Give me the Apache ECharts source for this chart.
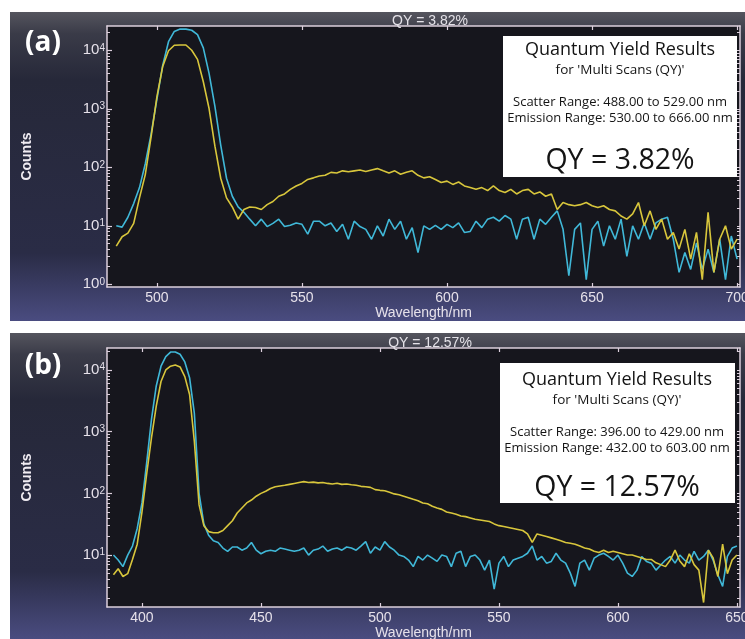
<!DOCTYPE html>
<html>
<head>
<meta charset="utf-8">
<script src="https://cdn.jsdelivr.net/npm/echarts@6/dist/echarts.min.js"></script>
<style>
  html, body { margin: 0; padding: 0; background: #ffffff; }
  #chart { width: 745px; height: 639px; }
</style>
</head>
<body>
<div id="chart"></div>
<script>
// Sampling grid of the two scans (nm)
const wlStartA = 486;
const wlStartB = 388;
const wlStep = 2;

// Scan (a): reference (cyan) and sample (yellow) counts
const cyanA = [10,9.5,14,24,45,115,370,1450,5500,14000,
  21000,23000,23000,22000,18500,11000,4000,1100,240,65,
  32,21,17,13,10,13,9.7,11,13,9.7,
  10.2,11.2,10.6,7.2,12,12,10,11.2,8,10.6,
  5.9,12,9.7,8.7,5.9,10,6.7,13,8.7,12,
  5.9,9.3,3.5,10,8.7,10.2,8.7,10.6,9.3,11.2,
  7.7,8,12,9.3,13,14,12,15,13,5.9,
  13,14,5.9,13,10.6,14,18,8.7,1.4,8.7,
  11.2,1.2,8.7,12,4.5,10,5.9,13,3,10,
  5.9,11.2,5.9,11.2,13,14,5.9,1.6,3.5,1.8,
  5.1,1.8,4,1.6,5.9,1.2,6.7,2.7];
const yellowA = [4.5,6.5,7.5,11,30,75,330,1600,5300,9800,
  12200,12300,12300,10000,7000,2900,1000,230,65,30,
  21,13,19,21,20.5,19,23,26,32,35,
  42,48,53,62,66,71,73,82,80,87,
  84,87,90,85,90,95,87,80,87,76,
  82,87,73,66,69,62,55,58,51,56,
  48,45,42,45,40,48,40,37,42,35,
  40,42,35,38,32,35,19,25,23,22,
  23,25,22,20.5,22,19,18,14.7,13,16,
  25,10,18,8.7,13,5.9,7.7,4,8.7,2.7,
  7.7,1.2,17,1.6,5.9,10,4,5.9];

// Scan (b): reference (cyan) and sample (yellow) counts
const cyanB = [10,8.3,6.5,10,14,27,70,320,1600,5500,
  11500,16500,19500,19500,18000,13500,7500,2000,100,32,
  21,17,16,13,11.5,13.5,13.5,12,13,16,
  12,10.5,11.5,12,11.5,13,12.5,12,11.5,12,
  13,10,12,12.5,14,11.5,12.5,13,12,13.5,
  13,12,14,16.5,10.7,13.5,12,16.5,13.5,12,
  10,9.5,8.3,6.5,9.5,8.3,10,8.9,7.9,10,
  9.5,6.5,10.7,11.5,6.5,9.5,10,8.3,5.7,8.3,
  2.8,7.4,9.5,6.5,8.3,8.9,9.5,10.7,14,8.3,
  9.5,7.4,7.9,10.7,8.3,7.4,5.1,3.1,7.4,8.3,
  5.7,8.9,10,10.7,9.5,8.3,10,7.4,5.1,4.5,
  5.7,9.5,7.9,7.4,5.7,6.9,8.3,9.5,7.4,10,
  8.3,7.4,11.5,8.3,9.5,12,8.3,4.8,3.1,9.5,
  13,14];
const yellowB = [4.8,6,4.5,5,8.5,15,50,210,800,2600,
  6500,10000,11500,12000,11200,7800,4000,700,65,30,
  24,23,23,25,30,36,48,58,70,78,
  90,100,108,120,128,132,135,140,145,150,
  155,150,152,148,150,145,142,146,140,142,
  138,135,130,128,125,115,112,110,104,98,
  95,90,85,80,76,70,68,62,58,55,
  50,48,46,43,42,40,38,37,36,35,
  32,30,29,28,27,26,25,22,16,22,
  21,20,19,18,17,16,15.5,15,14,13,
  12.5,11.5,11,12,11,11.5,11,10.5,10,10,
  9.5,9,8.5,8.5,7.5,7,6.5,8.3,12,8,
  6.5,10.5,7,5.7,1.7,12,9,4.5,15,5,
  8.3,10];

// Axis ticks
const xTicksA = [500, 550, 600, 650, 700];
const xTicksB = [400, 450, 500, 550, 600, 650];
const decadesA = [0, 1, 2, 3, 4];
const decadesB = [1, 2, 3, 4];

// Header and result box texts
const titleA = 'QY = 3.82%';
const titleB = 'QY = 12.57%';
const boxA = ['Quantum Yield Results', "for 'Multi Scans (QY)'",
  'Scatter Range: 488.00 to 529.00 nm', 'Emission Range: 530.00 to 666.00 nm', 'QY = 3.82%'];
const boxB = ['Quantum Yield Results', "for 'Multi Scans (QY)'",
  'Scatter Range: 396.00 to 429.00 nm', 'Emission Range: 432.00 to 603.00 nm', 'QY = 12.57%'];

const FRAME = '#dccfdc';
const LABEL = '#e6e1ea';
const CYAN = '#40b8d8';
const YELLOW = '#d8c63c';

function pairs(start, vals) {
  return vals.map((v, i) => [start + i * wlStep, v]);
}

function minorLogs(lo, hi) {
  const out = [];
  for (let n = -1; n <= 5; n++) {
    for (let k = 2; k <= 9; k++) {
      const v = n + Math.log10(k);
      if (v > lo && v < hi) out.push(v);
    }
  }
  return out;
}

const panels = [
  { grid: { left: 107, top: 26, width: 633, height: 261 },
    xMin: 482.8, xMax: 701, yMin: 0.9, yMax: 26000,
    xTicks: xTicksA, decades: decadesA, start: wlStartA, cyan: cyanA, yellow: yellowA },
  { grid: { left: 107, top: 348, width: 633, height: 259 },
    xMin: 385.3, xMax: 651.3, yMin: 1.44, yMax: 22700,
    xTicks: xTicksB, decades: decadesB, start: wlStartB, cyan: cyanB, yellow: yellowB }
];

const grids = [], xAxes = [], yAxes = [], series = [];
panels.forEach((p, i) => {
  grids.push(Object.assign({ show: true, backgroundColor: '#16161d', borderWidth: 0, containLabel: false, outerBoundsMode: 'none' }, p.grid));
  const lo = Math.log10(p.yMin), hi = Math.log10(p.yMax);
  const minors = minorLogs(lo, hi);
  xAxes.push({
    gridIndex: i, type: 'value', position: 'bottom', min: p.xMin, max: p.xMax,
    axisLine: { show: true, onZero: false, lineStyle: { color: FRAME, width: 1.5 } },
    axisTick: { show: true, inside: true, length: 4, customValues: p.xTicks, lineStyle: { color: FRAME, width: 1.2 } },
    axisLabel: { show: true, customValues: p.xTicks, color: LABEL, fontSize: 14, fontFamily: 'Liberation Sans', margin: 4 },
    splitLine: { show: false },
    name: 'Wavelength/nm', nameLocation: 'middle', nameGap: 18,
    nameTextStyle: { color: LABEL, fontSize: 14, fontFamily: 'Liberation Sans', verticalAlign: 'top' }
  });
  xAxes.push({
    gridIndex: i, type: 'value', position: 'top', min: p.xMin, max: p.xMax,
    axisLine: { show: true, onZero: false, lineStyle: { color: FRAME, width: 1.5 } },
    axisTick: { show: true, inside: true, length: 4, customValues: p.xTicks, lineStyle: { color: FRAME, width: 1.2 } },
    axisLabel: { show: false }, splitLine: { show: false }
  });
  // data axis (logarithmic counts)
  yAxes.push({ gridIndex: i, type: 'log', logBase: 10, min: p.yMin, max: p.yMax, show: false });
  // decade ticks and labels
  yAxes.push({
    gridIndex: i, type: 'value', position: 'left', min: lo, max: hi,
    axisLine: { show: true, onZero: false, lineStyle: { color: FRAME, width: 1.5 } },
    axisTick: { show: true, inside: true, length: 5, customValues: p.decades, lineStyle: { color: FRAME, width: 1.2 } },
    axisLabel: {
      show: true, customValues: p.decades, margin: 2, color: LABEL,
      fontSize: 15, fontFamily: 'Liberation Sans',
      formatter: v => '10{e|' + Math.round(v) + '}',
      rich: { e: { fontSize: 10, fontFamily: 'Liberation Sans', color: LABEL, verticalAlign: 'top', lineHeight: 12 } }
    },
    splitLine: { show: false },
    name: 'Counts', nameLocation: 'middle', nameRotate: 90, nameGap: 73,
    nameTextStyle: { color: '#f0ecf2', fontSize: 14, fontWeight: 'bold', fontFamily: 'Liberation Sans' }
  });
  // minor ticks
  yAxes.push({
    gridIndex: i, type: 'value', position: 'left', min: lo, max: hi,
    axisLine: { show: false },
    axisTick: { show: true, inside: true, length: 3, customValues: minors, lineStyle: { color: FRAME, width: 1 } },
    axisLabel: { show: false }, splitLine: { show: false }
  });
  // right frame
  yAxes.push({
    gridIndex: i, type: 'value', position: 'right', min: lo, max: hi,
    axisLine: { show: true, onZero: false, lineStyle: { color: FRAME, width: 1.5 } },
    axisTick: { show: true, inside: true, length: 3, customValues: p.decades.concat(minors), lineStyle: { color: FRAME, width: 1 } },
    axisLabel: { show: false }, splitLine: { show: false }
  });
  series.push({
    type: 'line', xAxisIndex: 2 * i, yAxisIndex: 4 * i, data: pairs(p.start, p.cyan),
    showSymbol: false, symbol: 'none', lineStyle: { color: CYAN, width: 1.6 }, silent: true
  });
  series.push({
    type: 'line', xAxisIndex: 2 * i, yAxisIndex: 4 * i, data: pairs(p.start, p.yellow),
    showSymbol: false, symbol: 'none', lineStyle: { color: YELLOW, width: 1.6 }, silent: true
  });
});

function panelBg(y, h) {
  return {
    type: 'rect', z: -10, shape: { x: 10, y: y, width: 735, height: h },
    style: {
      fill: { type: 'linear', x: 0, y: 0, x2: 0, y2: 1, colorStops: [
        { offset: 0, color: '#55555e' }, { offset: 0.07, color: '#3a3b48' },
        { offset: 0.22, color: '#262839' }, { offset: 0.78, color: '#2a2c46' },
        { offset: 1, color: '#4a4c80' } ] }
    }
  };
}

function txt(text, x, y, font, fill) {
  return { type: 'text', z: 100, style: { text: text, x: x, y: y, font: font, fill: fill, align: 'center', verticalAlign: 'middle' } };
}

function resultBox(lines, bx, by, bw, bh, cx, ys) {
  const out = [{ type: 'rect', z: 90, shape: { x: bx, y: by, width: bw, height: bh }, style: { fill: '#ffffff' } }];
  const fonts = ['18px "Open Sans"', '13.5px "Open Sans"', '13px "Open Sans"', '13px "Open Sans"', '28.5px "Open Sans"'];
  lines.forEach((t, k) => out.push(txt(t, cx, ys[k], fonts[k], '#141414')));
  return out;
}

const graphics = [
  panelBg(12, 309),
  panelBg(333, 306),
  txt('(a)', 43, 43, 'bold 28px "Open Sans"', '#ffffff'),
  txt('(b)', 43, 366, 'bold 28px "Open Sans"', '#ffffff'),
  txt(titleA, 430, 21, '14px "Liberation Sans"', '#e4e2e8'),
  txt(titleB, 430, 343, '14px "Liberation Sans"', '#e4e2e8')
].concat(resultBox(boxA, 503, 36, 234, 141, 620, [50, 70, 102, 118, 161]))
 .concat(resultBox(boxB, 500, 363, 235, 140, 617, [380, 400, 432, 448, 488]));

const chart = echarts.init(document.getElementById('chart'), null, { renderer: 'canvas' });
chart.setOption({
  animation: false,
  backgroundColor: '#ffffff',
  grid: grids,
  xAxis: xAxes,
  yAxis: yAxes,
  series: series,
  graphic: { elements: graphics }
});
</script>
</body>
</html>
